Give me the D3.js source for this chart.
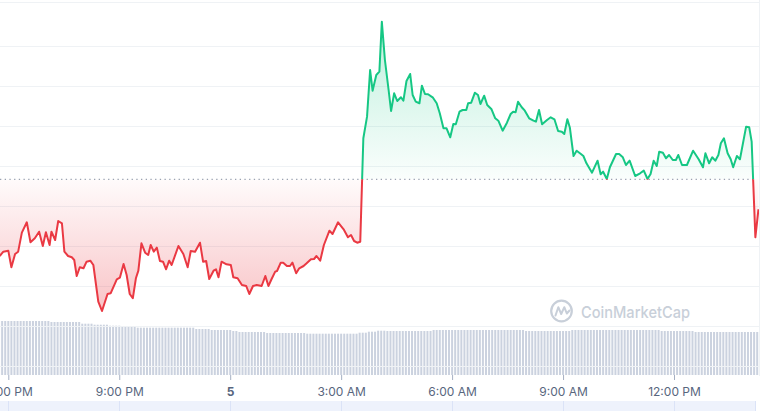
<!DOCTYPE html>
<html lang="en">
<head>
    <meta charset="UTF-8">
    <script src="https://d3js.org/d3.v7.min.js"></script>
    <title>Price chart</title>
    <style>
        body { margin: 0; background: #fff; overflow: hidden; }
        svg { display: block; font-family: Inter, "Noto Sans", sans-serif; }
    </style>
</head>
<body>
<script>
    // minutes after 6:00 PM (day 4) and price for each sample
    const priceMinutes = [
        -14, -8, 0, 5, 11, 16, 22, 30, 36, 43, 50, 56, 61, 67, 70, 76, 81, 87, 91, 97,
        103, 107, 111, 116, 122, 127, 133, 138, 146, 152, 161, 166, 176, 181, 187, 192, 197, 202, 207, 211,
        216, 222, 227, 231, 236, 241, 246, 251, 256, 261, 265, 276, 284, 291, 296, 303, 311, 316, 321, 326,
        333, 337, 341, 346, 354, 361, 365, 372, 379, 386, 391, 397, 403, 411, 417, 422, 427, 433, 436, 442,
        446, 452, 457, 461, 467, 472, 479, 484, 491, 496, 500, 506, 512, 521, 526, 535, 544, 551, 556, 561,
        566, 571, 576, 582, 587, 591, 597, 602, 606, 611, 617, 621, 626, 631, 637, 641, 646, 652, 656, 661,
        667, 671, 676, 681, 689, 695, 700, 706, 711, 717, 722, 726, 732, 737, 743, 746, 751, 757, 762, 766,
        772, 777, 784, 790, 795, 802, 809, 815, 819, 823, 827, 833, 838, 845, 852, 856, 861, 866, 874, 880,
        886, 892, 898, 902, 907, 911, 917, 922, 929, 933, 938, 947, 956, 961, 965, 971, 976, 986, 991, 997,
        1002, 1008, 1017, 1025, 1031, 1037, 1042, 1047, 1052, 1056, 1062, 1067, 1072, 1078, 1083, 1087, 1093, 1101, 1111, 1120,
        1127, 1131, 1137, 1142, 1147, 1152, 1156, 1161, 1167, 1172, 1176, 1182, 1187, 1197, 1202, 1206, 1212, 1217
    ];
    const prices = [
        11.75, 11.858, 11.883, 11.468, 11.8, 11.858, 12.333, 12.593, 12.093, 12.193, 12.358, 12.0, 12.343, 12.025, 12.358, 12.15, 12.625, 12.568, 11.858, 11.75,
        11.718, 11.65, 11.25, 11.468, 11.443, 11.608, 11.633, 11.525, 10.608, 10.375, 10.8, 10.818, 11.168, 11.208, 11.55, 11.275, 10.8, 10.693, 11.193, 11.383,
        12.068, 11.833, 11.775, 12.025, 11.858, 11.958, 11.625, 11.608, 11.418, 11.633, 11.525, 12.0, 11.8, 11.468, 11.875, 11.858, 12.083, 11.608, 11.625, 11.175,
        11.383, 11.418, 11.218, 11.608, 11.543, 11.525, 11.218, 11.193, 11.025, 11.0, 10.8, 11.0, 11.025, 11.0, 11.25, 11.0, 11.168, 11.358, 11.375, 11.583,
        11.583, 11.5, 11.5, 11.583, 11.318, 11.443, 11.5, 11.568, 11.668, 11.675, 11.75, 11.633, 12.025, 12.383, 12.3, 12.593, 12.418, 12.218, 12.275, 12.125,
        12.083, 12.108, 14.693, 15.233, 16.4, 15.883, 16.275, 16.358, 17.608, 16.65, 15.9, 15.375, 15.818, 15.625, 15.718, 15.633, 16.125, 16.3, 15.775, 15.608,
        15.568, 16.008, 15.8, 15.793, 15.708, 15.568, 15.318, 14.943, 14.943, 14.718, 15.05, 15.043, 15.358, 15.4, 15.4, 15.568, 15.583, 15.833, 15.775, 15.55,
        15.758, 15.525, 15.418, 15.193, 15.133, 14.883, 15.083, 15.3, 15.358, 15.343, 15.608, 15.468, 15.383, 15.193, 15.133, 15.108, 15.4, 15.043, 15.15, 15.218,
        15.168, 14.875, 14.858, 14.8, 15.168, 14.963, 14.25, 14.383, 14.3, 14.25, 14.068, 13.833, 14.133, 13.793, 13.858, 13.675, 13.968, 14.3, 14.3, 14.218,
        14.025, 14.133, 13.75, 13.818, 13.883, 13.675, 13.8, 14.133, 14.0, 14.358, 14.333, 14.193, 14.275, 14.15, 14.15, 14.275, 14.025, 14.025, 14.383, 14.168,
        13.968, 14.318, 14.068, 14.218, 14.133, 14.275, 14.568, 14.693, 14.318, 14.168, 13.968, 14.25, 14.168, 14.983, 14.968, 14.608, 12.218, 12.918
    ];
    const openPrice = 13.668;

    // 5-minute volume bars starting 5:45 PM
    const volumeStartMinute = -15;
    const volumes = [
        5.4, 5.4, 5.4, 5.4, 5.4, 5.4, 5.4, 5.4, 5.4, 5.4, 5.4, 5.4,
        5.4, 5.4, 5.4, 5.4, 5.4, 5.3, 5.3, 5.3, 5.3, 5.3, 5.3, 5.3,
        5.3, 5.3, 5.3, 5.13, 5.13, 5.13, 5.13, 5.03, 5.03, 5.03, 5.03, 5.03,
        4.93, 4.93, 4.93, 4.93, 4.83, 4.83, 4.83, 4.83, 4.83, 4.73, 4.73, 4.73,
        4.73, 4.73, 4.73, 4.73, 4.73, 4.73, 4.73, 4.73, 4.73, 4.73, 4.73, 4.73,
        4.73, 4.73, 4.73, 4.73, 4.6, 4.6, 4.6, 4.6, 4.6, 4.5, 4.5, 4.5,
        4.5, 4.5, 4.5, 4.5, 4.4, 4.4, 4.3, 4.3, 4.3, 4.3, 4.3, 4.3,
        4.3, 4.3, 4.3, 4.2, 4.2, 4.2, 4.2, 4.2, 4.2, 4.2, 4.2, 4.2,
        4.2, 4.2, 4.2, 4.2, 4.13, 4.13, 4.13, 4.13, 4.13, 4.13, 4.13, 4.13,
        4.13, 4.13, 4.13, 4.13, 4.13, 4.13, 4.13, 4.13, 4.13, 4.23, 4.23, 4.23,
        4.33, 4.33, 4.33, 4.43, 4.43, 4.43, 4.4, 4.4, 4.4, 4.4, 4.4, 4.4,
        4.4, 4.4, 4.4, 4.4, 4.4, 4.4, 4.4, 4.4, 4.4, 4.5, 4.5, 4.5,
        4.5, 4.5, 4.5, 4.5, 4.5, 4.5, 4.5, 4.5, 4.5, 4.5, 4.5, 4.5,
        4.5, 4.5, 4.5, 4.5, 4.5, 4.5, 4.5, 4.5, 4.5, 4.5, 4.5, 4.5,
        4.5, 4.5, 4.5, 4.4, 4.4, 4.4, 4.4, 4.4, 4.4, 4.4, 4.4, 4.4,
        4.4, 4.4, 4.4, 4.4, 4.4, 4.4, 4.5, 4.5, 4.5, 4.5, 4.5, 4.5,
        4.5, 4.5, 4.5, 4.5, 4.5, 4.5, 4.5, 4.5, 4.5, 4.5, 4.5, 4.5,
        4.5, 4.5, 4.5, 4.5, 4.5, 4.5, 4.5, 4.5, 4.5, 4.5, 4.5, 4.4,
        4.4, 4.4, 4.4, 4.4, 4.4, 4.4, 4.4, 4.4, 4.4, 4.4, 4.3, 4.3,
        4.3, 4.3, 4.3, 4.3, 4.3, 4.3, 4.3, 4.3, 4.3, 4.3, 4.3, 4.3,
        4.3, 4.3, 4.3, 4.3, 4.3, 4.3, 4.3
    ];

    // hours after midnight of day 4
    const tickHours = [18, 21, 24, 27, 30, 33, 36];
    const tickLabels = ["6:00 PM", "9:00 PM", "5", "3:00 AM", "6:00 AM", "9:00 AM", "12:00 PM"];
    const gridPrices = [9, 10, 11, 12, 13, 14, 15, 16, 17];

    const width = 771, height = 411;
    const plotRight = 759, volBottom = 375;
    const green = "#16c784", red = "#ea3943";

    const day4 = new Date(2023, 0, 4, 0, 0);
    const start = new Date(2023, 0, 4, 18, 0);
    const atMinute = m => new Date(start.getTime() + m * 60000);
    const atHour = h => new Date(day4.getTime() + h * 3600000);

    const data = priceMinutes.map((m, i) => ({date: atMinute(m), price: prices[i]}));
    const volData = volumes.map((v, i) => ({date: atMinute(volumeStartMinute + i * 5), vol: v}));

    const svg = d3.select("body").append("svg")
        .attr("width", width)
        .attr("height", height);

    const x = d3.scaleTime()
        .domain([atHour(18), atHour(36)])
        .range([8.3, 674]);
    const y = d3.scaleLinear()
        .domain([10, 17])
        .range([326, 46]);
    const yVol = d3.scaleLinear()
        .domain([0, 6])
        .range([volBottom, 315]);

    const defs = svg.append("defs");
    const baseY = y(openPrice);

    defs.append("clipPath").attr("id", "clip-up")
        .append("rect").attr("x", 0).attr("y", 0).attr("width", plotRight).attr("height", baseY);
    defs.append("clipPath").attr("id", "clip-down")
        .append("rect").attr("x", 0).attr("y", baseY).attr("width", plotRight).attr("height", volBottom - baseY);

    const gUp = defs.append("linearGradient").attr("id", "grad-up")
        .attr("gradientUnits", "userSpaceOnUse")
        .attr("x1", 0).attr("x2", 0).attr("y1", y(d3.max(prices))).attr("y2", baseY);
    gUp.append("stop").attr("offset", 0).attr("stop-color", green).attr("stop-opacity", 0.28);
    gUp.append("stop").attr("offset", 1).attr("stop-color", green).attr("stop-opacity", 0.02);

    const gDown = defs.append("linearGradient").attr("id", "grad-down")
        .attr("gradientUnits", "userSpaceOnUse")
        .attr("x1", 0).attr("x2", 0).attr("y1", baseY).attr("y2", y(d3.min(prices)));
    gDown.append("stop").attr("offset", 0).attr("stop-color", red).attr("stop-opacity", 0.02);
    gDown.append("stop").attr("offset", 1).attr("stop-color", red).attr("stop-opacity", 0.3);

    // top border and right edge
    svg.append("line")
        .attr("x1", 0).attr("x2", plotRight).attr("y1", 2.5).attr("y2", 2.5)
        .attr("stroke", "#eff2f5").attr("stroke-width", 1);
    svg.append("line")
        .attr("x1", plotRight + 0.5).attr("x2", plotRight + 0.5).attr("y1", 0).attr("y2", volBottom + 1)
        .attr("stroke", "#eff2f5").attr("stroke-width", 1);

    // Volume bars
    svg.append("g").selectAll("rect")
        .data(volData)
        .enter().append("rect")
        .attr("x", d => x(d.date) - 1)
        .attr("y", d => yVol(d.vol))
        .attr("width", 2)
        .attr("height", d => volBottom - yVol(d.vol))
        .attr("fill", "#cbd2df");

    // Gridlines
    svg.append("g").selectAll("line")
        .data(gridPrices)
        .enter().append("line")
        .attr("x1", 0).attr("x2", plotRight)
        .attr("y1", d => Math.round(y(d)) + 0.5).attr("y2", d => Math.round(y(d)) + 0.5)
        .attr("stroke", "#eff2f5").attr("stroke-width", 1);

    // Watermark
    const wm = svg.append("g").attr("fill", "none").attr("stroke", "#c8cfd9");
    wm.append("circle").attr("cx", 561.5).attr("cy", 311).attr("r", 10.3).attr("stroke-width", 2.2);
    wm.append("path")
        .attr("d", "M555.5,315.5 L558.3,307.2 L561.2,314 L564.3,307.2 L566.8,313.5 L569.5,310.5")
        .attr("stroke-width", 2).attr("stroke-linejoin", "round").attr("stroke-linecap", "round");
    svg.append("text")
        .attr("x", 581).attr("y", 317.5)
        .attr("font-size", 16.5).attr("font-weight", 500)
        .attr("textLength", 109).attr("lengthAdjust", "spacingAndGlyphs")
        .attr("fill", "#c8cfd9")
        .text("CoinMarketCap");

    // Areas
    const area = d3.area()
        .x(d => x(d.date))
        .y0(baseY)
        .y1(d => y(d.price));
    svg.append("path").datum(data)
        .attr("clip-path", "url(#clip-up)")
        .attr("fill", "url(#grad-up)")
        .attr("d", area);
    svg.append("path").datum(data)
        .attr("clip-path", "url(#clip-down)")
        .attr("fill", "url(#grad-down)")
        .attr("d", area);

    // Open price dotted line
    svg.append("line")
        .attr("x1", 0).attr("x2", 756)
        .attr("y1", baseY).attr("y2", baseY)
        .attr("stroke", "#9aa2b1").attr("stroke-width", 1.2)
        .attr("stroke-dasharray", "1.3 3.4");

    // Price lines
    const line = d3.line()
        .x(d => x(d.date))
        .y(d => y(d.price));
    svg.append("path").datum(data)
        .attr("clip-path", "url(#clip-up)")
        .attr("fill", "none").attr("stroke", green).attr("stroke-width", 2)
        .attr("stroke-linejoin", "round")
        .attr("d", line);
    svg.append("path").datum(data)
        .attr("clip-path", "url(#clip-down)")
        .attr("fill", "none").attr("stroke", red).attr("stroke-width", 2)
        .attr("stroke-linejoin", "round")
        .attr("d", line);

    // Bottom navigator band
    svg.append("rect")
        .attr("x", 0).attr("y", 401).attr("width", 755).attr("height", 10)
        .attr("fill", "#eef2fc");
    svg.append("g").selectAll("line")
        .data(tickHours.concat([38.2]))
        .enter().append("line")
        .attr("x1", d => Math.round(x(atHour(d))) + 0.5).attr("x2", d => Math.round(x(atHour(d))) + 0.5)
        .attr("y1", 401).attr("y2", 411)
        .attr("stroke", "#dbe3f7");

    // X axis
    const axis = svg.append("g")
        .attr("transform", "translate(0," + volBottom + ")")
        .call(d3.axisBottom(x)
            .tickValues(tickHours.map(atHour))
            .tickSize(5)
            .tickPadding(7)
            .tickFormat((d, i) => tickLabels[i]));
    axis.select(".domain").remove();
    axis.selectAll(".tick line").attr("stroke", "#a6b0c3");
    axis.selectAll(".tick text")
        .attr("fill", "#58667e")
        .attr("font-size", 12)
        .attr("font-family", "Inter, sans-serif")
        .attr("font-weight", (d, i) => tickLabels[i] === "5" ? 700 : 400);
</script>
</body>
</html>
